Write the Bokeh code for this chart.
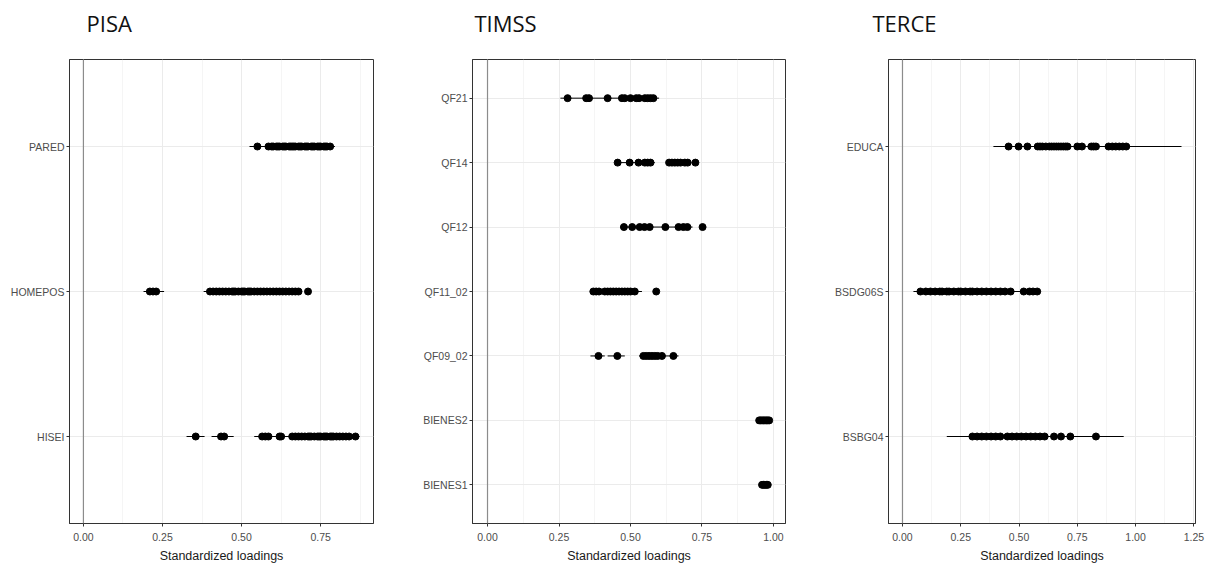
from bokeh.plotting import figure
from bokeh.layouts import row, column
from bokeh.models import FixedTicker, Span, ColumnDataSource
from bokeh.core.properties import value
from bokeh.embed import file_html
from bokeh.resources import INLINE

# ---------------- data ----------------
panel_titles = ["PISA", "TIMSS", "TERCE"]

pisa_cats = ["HISEI", "HOMEPOS", "PARED"]
pisa_pared = [0.55, 0.585, 0.595, 0.60, 0.61, 0.615, 0.62, 0.63, 0.635, 0.64, 0.65, 0.655, 0.66,
              0.665, 0.67, 0.68, 0.685, 0.69, 0.70, 0.705, 0.71, 0.72, 0.725, 0.73, 0.74, 0.745,
              0.75, 0.76, 0.765, 0.77, 0.78]
pisa_homepos = [0.21, 0.22, 0.23, 0.40, 0.41, 0.42, 0.43, 0.44, 0.45, 0.46, 0.47, 0.475, 0.48,
                0.49, 0.50, 0.505, 0.51, 0.52, 0.525, 0.53, 0.54, 0.55, 0.56, 0.57, 0.58, 0.59,
                0.60, 0.61, 0.62, 0.63, 0.64, 0.65, 0.66, 0.67, 0.68, 0.71]
pisa_hisei = [0.355, 0.435, 0.445, 0.565, 0.575, 0.585, 0.62, 0.625, 0.66, 0.67, 0.68, 0.69,
              0.70, 0.71, 0.715, 0.72, 0.73, 0.74, 0.745, 0.75, 0.76, 0.765, 0.77, 0.78, 0.785,
              0.79, 0.80, 0.81, 0.82, 0.83, 0.84, 0.86]
pisa_ci_cat = ["PARED", "HOMEPOS", "HOMEPOS", "HOMEPOS", "HISEI", "HISEI", "HISEI"]
pisa_ci_lo = [0.525, 0.19, 0.38, 0.70, 0.326, 0.405, 0.54]
pisa_ci_hi = [0.795, 0.255, 0.69, 0.72, 0.383, 0.475, 0.873]

timss_cats = ["BIENES1", "BIENES2", "QF09_02", "QF11_02", "QF12", "QF14", "QF21"]
timss_qf21 = [0.28, 0.345, 0.355, 0.42, 0.47, 0.48, 0.50, 0.52, 0.53, 0.55, 0.56, 0.57, 0.58]
timss_qf14 = [0.455, 0.497, 0.528, 0.55, 0.56, 0.57, 0.635, 0.645, 0.655, 0.665, 0.675, 0.69,
              0.70, 0.727]
timss_qf12 = [0.477, 0.506, 0.532, 0.549, 0.567, 0.622, 0.668, 0.685, 0.699, 0.752]
timss_qf11 = [0.37, 0.38, 0.39, 0.41, 0.42, 0.43, 0.44, 0.45, 0.46, 0.47, 0.48, 0.49, 0.50,
              0.515, 0.59]
timss_qf09 = [0.388, 0.454, 0.545, 0.555, 0.565, 0.575, 0.585, 0.595, 0.61, 0.65]
timss_bienes2 = [0.95, 0.955, 0.96, 0.965, 0.97, 0.975, 0.98, 0.985]
timss_bienes1 = [0.96, 0.965, 0.97, 0.975, 0.98]
timss_ci_cat = ["QF21", "QF14", "QF14", "QF12", "QF11_02", "QF11_02", "QF09_02", "QF09_02",
                "QF09_02", "BIENES2", "BIENES1"]
timss_ci_lo = [0.255, 0.447, 0.625, 0.465, 0.365, 0.58, 0.36, 0.42, 0.53, 0.945, 0.955]
timss_ci_hi = [0.60, 0.585, 0.71, 0.717, 0.54, 0.60, 0.41, 0.48, 0.668, 0.99, 0.985]

terce_cats = ["BSBG04", "BSDG06S", "EDUCA"]
terce_educa = [0.455, 0.498, 0.536, 0.58, 0.59, 0.60, 0.615, 0.63, 0.64, 0.65, 0.66, 0.67, 0.68,
               0.69, 0.70, 0.708, 0.75, 0.77, 0.81, 0.82, 0.83, 0.884, 0.90, 0.915, 0.93, 0.945,
               0.96]
terce_bsdg06s = [0.077, 0.10, 0.12, 0.14, 0.16, 0.17, 0.19, 0.20, 0.22, 0.24, 0.25, 0.27, 0.29,
                 0.30, 0.32, 0.34, 0.36, 0.38, 0.40, 0.42, 0.44, 0.464, 0.52, 0.545, 0.56, 0.578]
terce_bsbg04 = [0.30, 0.32, 0.34, 0.36, 0.38, 0.40, 0.42, 0.45, 0.47, 0.49, 0.51, 0.53, 0.55,
                0.57, 0.59, 0.61, 0.65, 0.68, 0.72, 0.83]
terce_ci_cat = ["EDUCA", "BSDG06S", "BSBG04"]
terce_ci_lo = [0.39, 0.047, 0.19]
terce_ci_hi = [1.197, 0.592, 0.949]

pisa_ticks = [0.0, 0.25, 0.5, 0.75]
timss_ticks = [0.0, 0.25, 0.5, 0.75, 1.0]
terce_ticks = [0.0, 0.25, 0.5, 0.75, 1.0, 1.25]

TICK_FONT = "Liberation Sans"
TITLE_H = 40


def make_title(text, width, left_px):
    t = figure(width=width, height=TITLE_H, x_range=(0, width), y_range=(0, TITLE_H),
               output_backend="svg", toolbar_location=None,
               x_axis_location=None, y_axis_location=None,
               min_border=0, min_border_left=0, min_border_right=0,
               min_border_top=0, min_border_bottom=0)
    t.outline_line_color = None
    t.xgrid.visible = False
    t.ygrid.visible = False
    t.text(x=[left_px], y=[TITLE_H - 22], text=[text], text_font=value("Open Sans"),
           text_font_size="22px", text_color="#111111", text_baseline="middle",
           text_align="left")
    return t


def make_panel(cats, series, ci_cat, ci_lo, ci_hi, ticks, xr, width, bl, br):
    ypos = {c: i + 1 for i, c in enumerate(cats)}
    p = figure(width=width, height=567 - TITLE_H, x_range=xr, y_range=(0.4, len(cats) + 0.6),
               output_backend="svg", toolbar_location=None,
               min_border_left=bl, min_border_right=br, min_border_top=59 - TITLE_H,
               min_border_bottom=44)

    p.background_fill_color = "white"
    p.border_fill_color = "white"
    p.outline_line_color = "#333333"
    p.outline_line_width = 1

    minor = [t + 0.125 for t in ticks] + [ticks[0] - 0.125]
    p.xaxis.ticker = FixedTicker(ticks=ticks, minor_ticks=minor)
    p.xgrid.grid_line_color = "#EBEBEB"
    p.xgrid.grid_line_width = 1
    p.xgrid.minor_grid_line_color = "#F2F2F2"
    p.xgrid.minor_grid_line_width = 0.8
    p.yaxis.ticker = FixedTicker(ticks=[ypos[c] for c in cats])
    p.yaxis.major_label_overrides = {ypos[c]: c for c in cats}
    p.ygrid.grid_line_color = "#EBEBEB"
    p.ygrid.grid_line_width = 1
    p.xaxis.major_label_overrides = {t: "%.2f" % t for t in ticks}

    for ax in (p.xaxis, p.yaxis):
        ax.axis_line_color = "#333333"
        ax.major_tick_line_color = "#333333"
        ax.major_tick_in = 0
        ax.major_tick_out = 3
        ax.minor_tick_line_color = None
        ax.major_label_text_font = TICK_FONT
        ax.major_label_text_font_size = "10.5px"
        ax.major_label_text_color = "#4D4D4D"
    p.xaxis.major_label_standoff = 5
    p.yaxis.major_label_standoff = 2
    p.xaxis.axis_label = "Standardized loadings"
    p.xaxis.axis_label_text_font = TICK_FONT
    p.xaxis.axis_label_text_font_size = "12.5px"
    p.xaxis.axis_label_text_font_style = "normal"
    p.xaxis.axis_label_text_color = "#1a1a1a"
    p.xaxis.axis_label_standoff = 5

    p.add_layout(Span(location=0, dimension="height", line_color="#8C8C8C", line_width=1.2))

    seg = ColumnDataSource(dict(x0=ci_lo, x1=ci_hi, y=[ypos[c] for c in ci_cat]))
    p.segment(x0="x0", x1="x1", y0="y", y1="y", source=seg, line_color="black", line_width=1)

    xs, ys = [], []
    for c, vals in series.items():
        xs += vals
        ys += [ypos[c]] * len(vals)
    p.scatter(xs, ys, size=7, fill_color="black", line_color="black")
    return p


widths = [408, 400, 399]
t1 = make_title(panel_titles[0], widths[0], 86)
t2 = make_title(panel_titles[1], widths[1], 66)
t3 = make_title(panel_titles[2], widths[2], 64)

p1 = make_panel(pisa_cats,
                {"PARED": pisa_pared, "HOMEPOS": pisa_homepos, "HISEI": pisa_hisei},
                pisa_ci_cat, pisa_ci_lo, pisa_ci_hi, pisa_ticks, (-0.044, 0.917),
                widths[0], 69, 35)
p2 = make_panel(timss_cats,
                {"QF21": timss_qf21, "QF14": timss_qf14, "QF12": timss_qf12,
                 "QF11_02": timss_qf11, "QF09_02": timss_qf09,
                 "BIENES2": timss_bienes2, "BIENES1": timss_bienes1},
                timss_ci_cat, timss_ci_lo, timss_ci_hi, timss_ticks, (-0.0525, 1.042),
                widths[1], 64, 23)
p3 = make_panel(terce_cats,
                {"EDUCA": terce_educa, "BSDG06S": terce_bsdg06s, "BSBG04": terce_bsbg04},
                terce_ci_cat, terce_ci_lo, terce_ci_hi, terce_ticks, (-0.06, 1.257),
                widths[2], 80, 12)

layout = column(row(t1, t2, t3, spacing=0), row(p1, p2, p3, spacing=0), spacing=0)
open("out.html", "w").write(file_html(layout, INLINE))
